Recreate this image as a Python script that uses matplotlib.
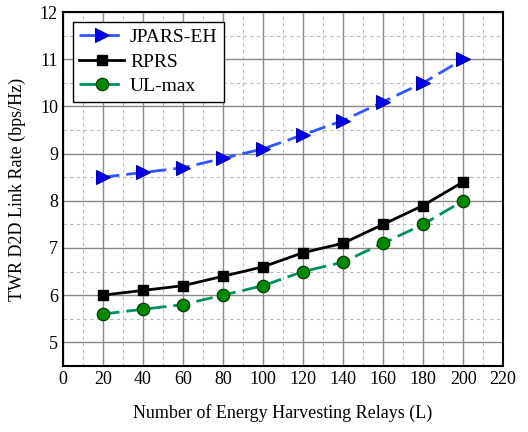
import numpy as np
import matplotlib.pyplot as plt
from matplotlib.ticker import MultipleLocator

plt.rcParams['font.family'] = ['Liberation Serif', 'DejaVu Serif']
plt.rcParams['font.size'] = 13

relays = [20, 40, 60, 80, 100, 120, 140, 160, 180, 200]
jpars_eh = [8.5, 8.6, 8.7, 8.9, 9.1, 9.4, 9.7, 10.1, 10.5, 11.0]
rprs = [6.0, 6.1, 6.2, 6.4, 6.6, 6.9, 7.1, 7.5, 7.9, 8.4]
ul_max = [5.6, 5.7, 5.8, 6.0, 6.2, 6.5, 6.7, 7.1, 7.5, 8.0]

fig = plt.figure(figsize=(5.28, 4.32), dpi=100)
ax = fig.add_axes([0.119, 0.153, 0.834, 0.819])

ax.plot(relays, jpars_eh, color='#3355ff', lw=2, ls=(0, (6, 2.5)),
        marker='>', ms=10, mfc='#0000ee', mec='#0000aa', mew=0.8, label='JPARS-EH')
ax.plot(relays, rprs, color='black', lw=2, ls='-',
        marker='s', ms=7, mfc='black', mec='black', label='RPRS')
ax.plot(relays, ul_max, color='#009060', lw=2, ls=(0, (6, 2.5)),
        marker='o', ms=9, mfc='#008800', mec='#003300', mew=0.8, label='UL-max')

ax.set_xlim(0, 220)
ax.set_ylim(4.5, 12)
ax.xaxis.set_major_locator(MultipleLocator(20))
ax.xaxis.set_minor_locator(MultipleLocator(10))
ax.yaxis.set_major_locator(MultipleLocator(1))
ax.yaxis.set_minor_locator(MultipleLocator(0.5))
ax.grid(which='major', color='#888888', lw=1, ls='-')
ax.grid(which='minor', color='#bbbbbb', lw=0.8, ls=(0, (3, 3)))
ax.set_axisbelow(True)
ax.tick_params(which='both', length=0, labelsize=13)
for s in ax.spines.values():
    s.set_linewidth(1.5)

ax.set_xlabel('Number of Energy Harvesting Relays (L)', fontsize=13, labelpad=12)
ax.set_ylabel('TWR D2D Link Rate (bps/Hz)', fontsize=13, labelpad=10)

leg = ax.legend(loc='upper left', fancybox=False, edgecolor='black', framealpha=1,
                fontsize=14, handlelength=2.3, handletextpad=0.3,
                borderaxespad=0.5, borderpad=0.35, labelspacing=0.35)
leg.get_frame().set_linewidth(1)

fig.savefig('out.png', dpi=100)
